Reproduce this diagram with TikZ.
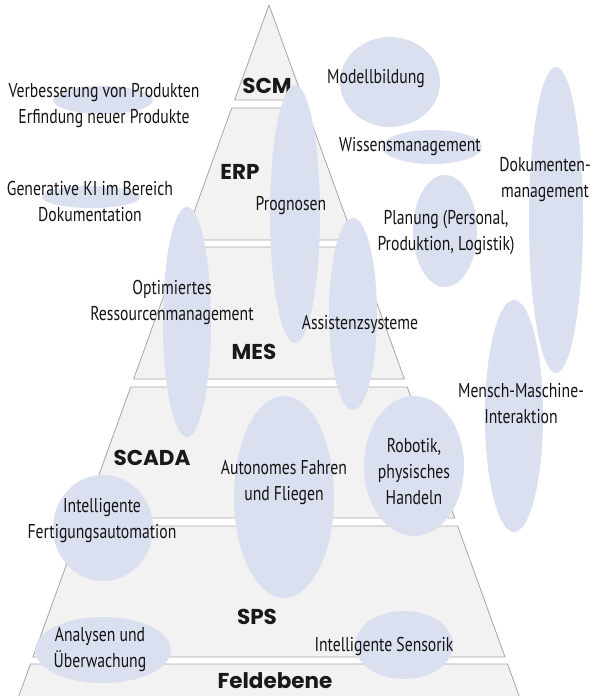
\documentclass[tikz,border=0pt]{standalone}
\usepackage{fontspec}
\newfontfamily\condfont[FakeStretch=0.785]{PT Sans}
\newfontfamily\headfont{Poppins}
\usetikzlibrary{shapes.geometric}
\definecolor{layerfill}{HTML}{F2F2F2}
\definecolor{layerline}{HTML}{A6A6A6}
\definecolor{bubblefill}{HTML}{DAE0F0}
\tikzset{
  layer/.style={
    fill=layerfill,
    draw=layerline,
    line width=0.8pt,
    line join=round
  },
  layer name/.style={
    font=\headfont\bfseries\fontsize{21.5}{25}\selectfont,
    text=black!90,
    inner sep=0pt
  },
  bubble/.style 2 args={
    ellipse,
    fill=bubblefill,
    inner sep=0pt,
    minimum width=#1pt,
    minimum height=#2pt
  },
  topic/.style={
    font=\condfont\fontsize{20}{26}\selectfont,
    align=center,
    text=black!92,
    inner sep=0pt
  }
}

\begin{document}
\begin{tikzpicture}[x=1pt,y=-1pt]
\useasboundingbox (0,0) rectangle (604,696);
\clip (0,0) rectangle (604,696);
% Pyramid: tip, then the trapezoid levels
\draw[layer] (269,5) -- ({269+0.362*95},100) -- ({269-0.362*95},100) -- cycle;
\foreach \t/\b in {108/240,247/379,387/518,526/657,664/720}
  \draw[layer] ({269-0.362*(\t-5)},\t) -- ({269+0.362*(\t-5)},\t)
    -- ({269+0.362*(\b-5)},\b) -- ({269-0.362*(\b-5)},\b) -- cycle;
% Level names
\node[layer name] (scm)   at (267,86)  {SCM};
\node[layer name] (erp)   at (240,172) {ERP};
\node[layer name] (mes)   at (254,352) {MES};
\node[layer name] (scada) at (152,458) {SCADA};
\node[layer name] (sps)   at (257,617) {SPS};
\node[layer name] (feld)  at (275,681) {Feldebene};
% Bubbles
\node[bubble={100}{90}]  (b-modell)    at (390,82)  {};
\node[bubble={100}{34}]  (b-wissen)    at (432,147) {};
\node[bubble={54}{306}]  (b-dokument)  at (556,220) {};
\node[bubble={64}{112}]  (b-planung)   at (445,231) {};
\node[bubble={58}{232}]  (b-mensch)    at (514,416) {};
\node[bubble={50}{258}]  (b-prognose)  at (295,214) {};
\node[bubble={48}{230}]  (b-ressource) at (187,322) {};
\node[bubble={48}{192}]  (b-assist)    at (353,314) {};
\node[bubble={100}{202}] (b-autonom)   at (284,497) {};
\node[bubble={100}{140}] (b-robotik)   at (414,466) {};
\node[bubble={100}{106}] (b-fertigung) at (103,528) {};
\node[bubble={136}{66}]  (b-analyse)   at (103,650) {};
\node[bubble={98}{68}]   (b-sensorik)  at (404,645) {};
\node[bubble={100}{28}]  (b-produkt)   at (103,100) {};
\node[bubble={98}{22}]   (b-doku)      at (91,197)  {};
% Topics
\node[topic] (t-produkt)   at (104,106) {Verbesserung von Produkten\\Erfindung neuer Produkte};
\node[topic] (t-doku)      at (90,201)  {Generative KI im Bereich\\Dokumentation};
\node[topic] (t-modell)    at (376,79)  {Modellbildung};
\node[topic] (t-wissen)    at (410,147) {Wissensmanagement};
\node[topic] (t-dokument)  at (545,180) {Dokumenten-\\management};
\node[topic] (t-planung)   at (446,233) {Planung (Personal,\\Produktion, Logistik)};
\node[topic] (t-prognose)  at (291,206) {Prognosen};
\node[topic] (t-ressource) at (172,302) {Optimiertes\\Ressourcenmanagement};
\node[topic] (t-assist)    at (360,324) {Assistenzsysteme};
\node[topic] (t-mensch)    at (521,404) {Mensch-Maschine-\\Interaktion};
\node[topic] (t-autonom)   at (284,483) {Autonomes Fahren\\und Fliegen};
\node[topic] (t-robotik)   at (414,472) {Robotik,\\physisches\\Handeln};
\node[topic] (t-fertigung) at (102,521) {Intelligente\\Fertigungsautomation};
\node[topic] (t-analyse)   at (100,650) {Analysen und\\Überwachung};
\node[topic] (t-sensorik)  at (384,646) {Intelligente Sensorik};
\end{tikzpicture}
\end{document}
